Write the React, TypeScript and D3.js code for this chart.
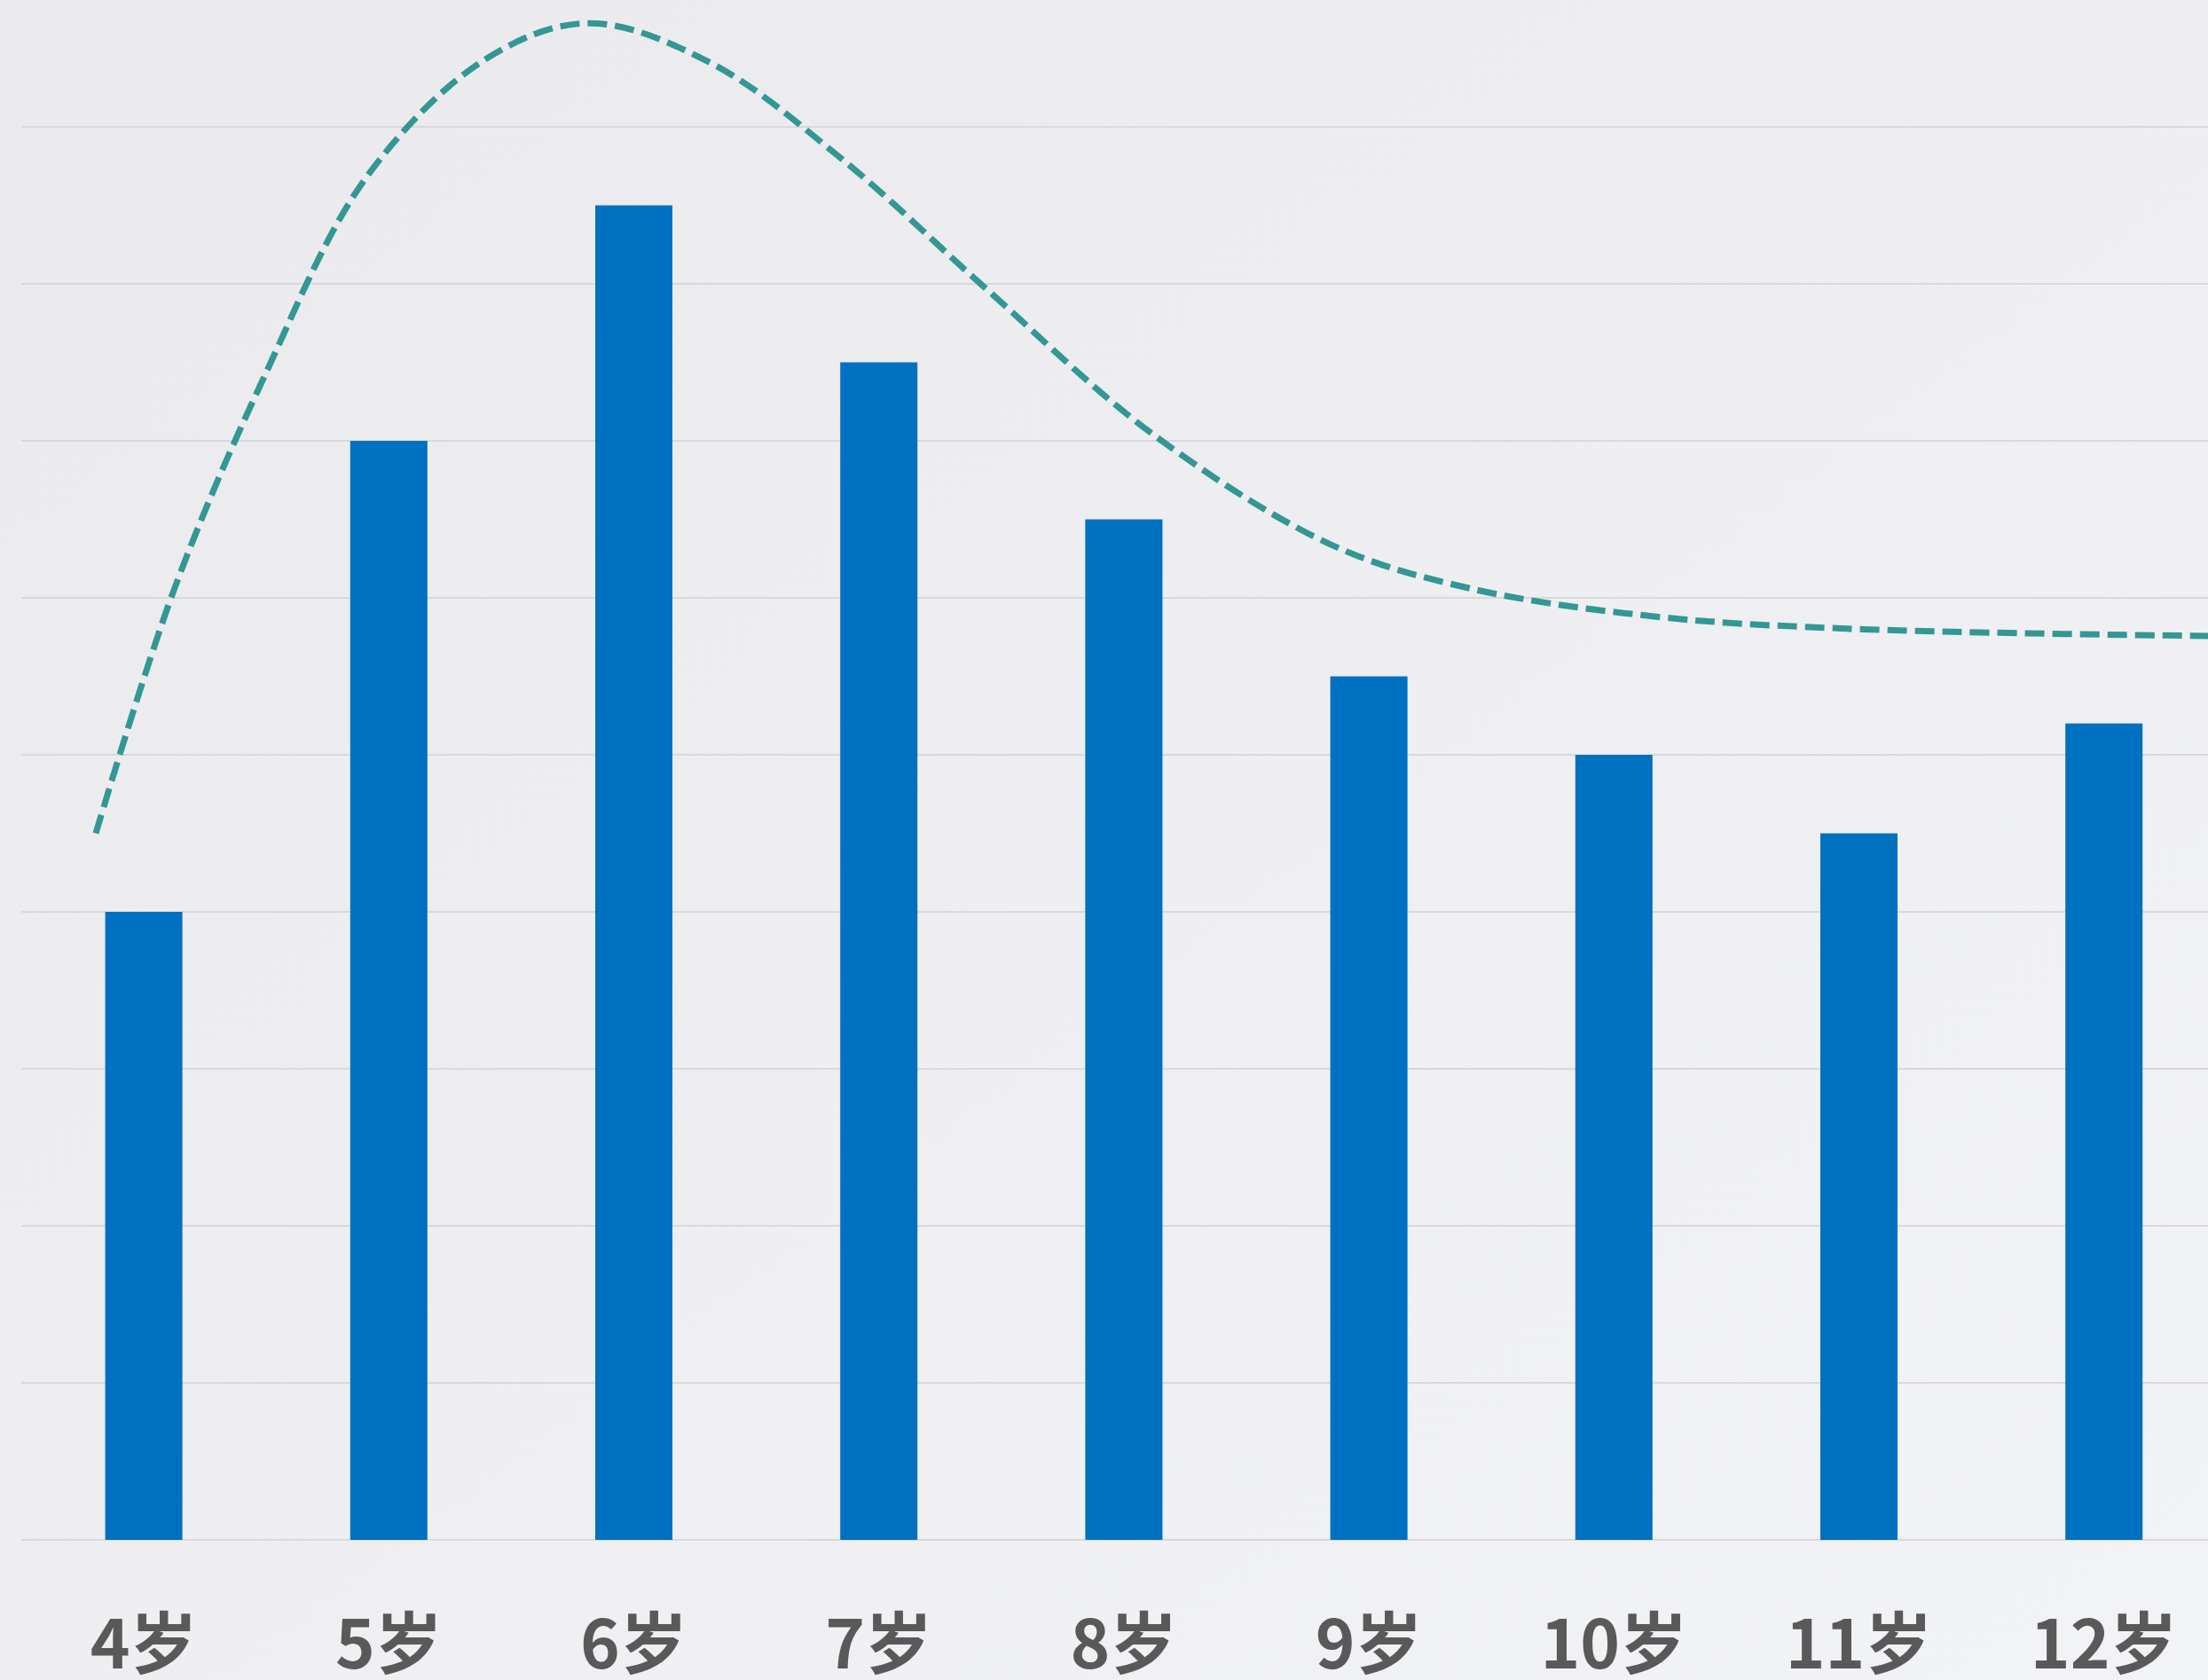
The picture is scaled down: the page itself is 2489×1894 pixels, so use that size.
import React from "react";
import * as d3 from "d3";

const categories = ["4岁", "5岁", "6岁", "7岁", "8岁", "9岁", "10岁", "11岁", "12岁"];
const values = [4, 7, 8.5, 7.5, 6.5, 5.5, 5, 4.5, 5.2];
const gridTicks = [0, 1, 2, 3, 4, 5, 6, 7, 8, 9, 10];
// trend curve, x in category-index units, y in value units
const trendX = [-0.196, 0.123, 0.489, 0.909, 1.394, 1.814, 2.31, 2.853, 3.43, 4.12, 4.844, 5.413, 6.173, 7.017, 8.83];
const trendY = [4.5, 6.05, 7.4, 8.68, 9.43, 9.66, 9.41, 8.79, 7.98, 7.04, 6.34, 6.06, 5.88, 5.8, 5.75];

const W = 2489;
const H = 1894;
const left = 24;
const step = 276.2;
const baseY = 1736;
const unit = 177;

export default function App() {
  const x = d3
    .scaleBand<string>()
    .domain(categories)
    .range([left, left + step * categories.length])
    .paddingInner(0.685)
    .paddingOuter(0.3425);
  const y = d3.scaleLinear().domain([0, 10]).range([baseY, baseY - unit * 10]);
  const xi = d3
    .scaleLinear()
    .domain([0, categories.length - 1])
    .range([
      (x(categories[0]) as number) + x.bandwidth() / 2,
      (x(categories[categories.length - 1]) as number) + x.bandwidth() / 2,
    ]);
  const line = d3
    .line<number>()
    .x((_, i) => xi(trendX[i]))
    .y((d) => y(d))
    .curve(d3.curveCatmullRom.alpha(0.5));
  const pathD = line(trendY) || "";

  return (
    <svg
      width={W}
      height={H}
      viewBox={`0 0 ${W} ${H}`}
      style={{ position: "absolute", left: 0, top: 0, display: "block" }}
    >
      <defs>
        <linearGradient id="bg" x1="0" y1="0" x2="1" y2="1">
          <stop offset="0" stopColor="#EAEAED" />
          <stop offset="1" stopColor="#F2F3F6" />
        </linearGradient>
      </defs>
      <rect x={0} y={0} width={W} height={H} fill="url(#bg)" />
      {gridTicks.map((t) => (
        <line
          key={t}
          x1={left}
          x2={W + 40}
          y1={y(t)}
          y2={y(t)}
          stroke="#D9D9DC"
          strokeWidth={2}
        />
      ))}
      {categories.map((c, i) => (
        <rect
          key={c}
          x={x(c)}
          y={y(values[i])}
          width={x.bandwidth()}
          height={y(0) - y(values[i])}
          fill="#0070C0"
        />
      ))}
      <path
        d={pathD}
        fill="none"
        stroke="#339794"
        strokeWidth={7}
        strokeDasharray="22 9"
      />
      {categories.map((c) => (
        <text
          key={c}
          x={(x(c) as number) + x.bandwidth() / 2}
          y={1881}
          textAnchor="middle"
          fontFamily="'Noto Sans CJK SC', 'Noto Sans', sans-serif"
          fontWeight={700}
          fontSize={76}
          fill="#595959"
        >
          {c}
        </text>
      ))}
    </svg>
  );
}
